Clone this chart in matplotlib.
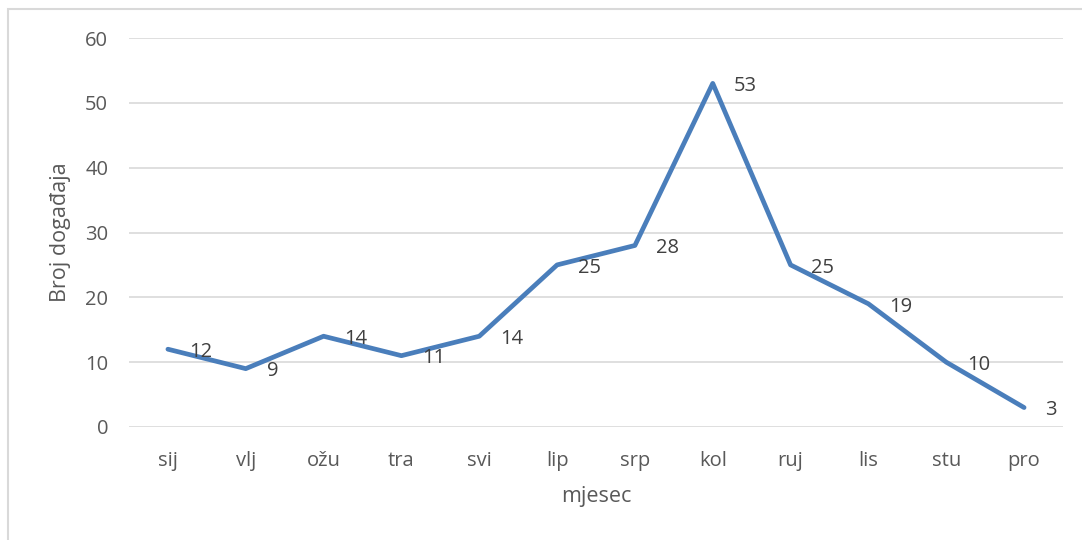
import matplotlib.pyplot as plt
from matplotlib.patches import Rectangle

months = ['sij', 'vlj', 'ožu', 'tra', 'svi', 'lip', 'srp', 'kol', 'ruj', 'lis', 'stu', 'pro']
events = [12, 9, 14, 11, 14, 25, 28, 53, 25, 19, 10, 3]
yticks = [0, 10, 20, 30, 40, 50, 60]

plt.rcParams['font.family'] = ['Open Sans', 'DejaVu Sans']
text_color = '#595959'

fig = plt.figure(figsize=(10.82, 5.40), dpi=100)
ax = fig.add_axes([129 / 1082, 1 - 427 / 540, (1063 - 129) / 1082, (427 - 38) / 540])

x = list(range(len(months)))
ax.plot(x, events, color='#4a7ebb', linewidth=3.4, solid_capstyle='round', solid_joinstyle='round', zorder=3)

for xi, v in zip(x, events):
    ax.annotate(str(v), (xi, v), xytext=(15, -2), textcoords='offset points',
                ha='left', va='center', fontsize=14.5, color='#404040')

ax.set_xlim(-0.5, len(months) - 0.5)
ax.set_ylim(0, 60)
ax.set_yticks(yticks)
ax.set_xticks(x)
ax.set_xticklabels(months)
ax.grid(axis='y', color='#d9d9d9', linewidth=1.2)
ax.set_axisbelow(True)
for s in ax.spines.values():
    s.set_visible(False)
ax.tick_params(length=0, labelsize=14.5, colors=text_color)
ax.tick_params(axis='x', pad=17)
ax.tick_params(axis='y', pad=15)
ax.set_xlabel('mjesec', fontsize=15.5, color=text_color, labelpad=11)
ax.set_ylabel('Broj događaja', fontsize=15.5, color=text_color, labelpad=10)

# chart border (left and top edges visible)
fig.patches.append(Rectangle((8 / 1082, -0.1), 1.2, 1 - 9 / 540 + 0.1, transform=fig.transFigure,
                             fill=False, edgecolor='#d9d9d9', linewidth=1.5))

fig.savefig('out.png', dpi=100)
